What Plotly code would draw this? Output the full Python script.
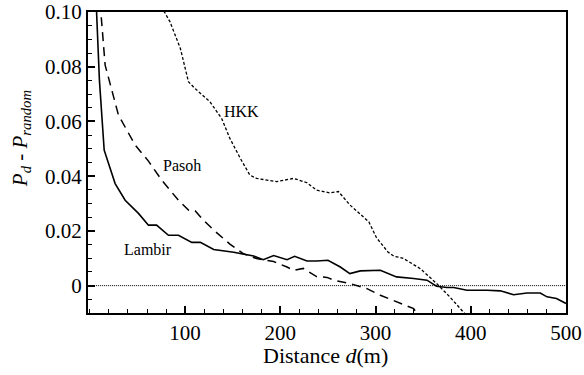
import plotly.graph_objects as go

# Lambir (solid)
lambir_d = [6, 7, 10, 15, 26.5, 37, 51, 61.5, 70, 82.5, 93, 107, 116, 130, 151, 172, 182, 193,
            207, 215, 228, 238, 250, 263, 273, 284, 305, 322, 340, 354, 364, 375, 382, 396,
            417, 431, 445, 459, 473, 480, 490, 500]
lambir_v = [0.115, 0.10, 0.075, 0.0495, 0.0373, 0.0312, 0.0264, 0.0221, 0.0221, 0.0184, 0.0184,
            0.0158, 0.0158, 0.0132, 0.0122, 0.0108, 0.0095, 0.011, 0.0095, 0.0107, 0.009, 0.009,
            0.0093, 0.0068, 0.0044, 0.0054, 0.0056, 0.0032, 0.0026, 0.002, -0.0002, -0.0007,
            -0.0007, -0.0017, -0.0017, -0.0019, -0.0033, -0.0027, -0.0027, -0.0041, -0.0047, -0.0065]

# Pasoh (dashed)
pasoh_d = [9, 11.5, 16, 30, 47.5, 61.5, 75.5, 86, 93, 103.5, 110.5, 119, 130, 147, 161, 175, 193,
           207, 214, 224, 238, 249, 256, 273, 291, 305, 326, 340, 345]
pasoh_v = [0.12, 0.10, 0.0806, 0.0623, 0.0514, 0.0455, 0.0385, 0.034, 0.0312, 0.0276, 0.0274,
           0.024, 0.0203, 0.0152, 0.0117, 0.0099, 0.0088, 0.0068, 0.0056, 0.0063, 0.0033, 0.003,
           0.002, 0.0008, -0.0011, -0.0035, -0.0065, -0.0084, -0.011]

# HKK (dotted)
hkk_d = [75, 84, 95, 103.5, 110.5, 126, 138.5, 147, 158, 168, 175, 196, 214, 228, 238, 252, 261,
         273, 293, 301, 313, 319, 329, 347, 364, 378, 392, 396]
hkk_v = [0.102, 0.0965, 0.0867, 0.0745, 0.072, 0.0672, 0.061, 0.0538, 0.0465, 0.0404, 0.0392,
         0.038, 0.0392, 0.0376, 0.0349, 0.0339, 0.0344, 0.0295, 0.0233, 0.0175, 0.0123, 0.0108,
         0.01, 0.0062, 0.0008, -0.0041, -0.0096, -0.011]

zero_d = [0, 500]
zero_v = [0, 0]

x_ticks = [100, 200, 300, 400, 500]
y_ticks = [0, 0.02, 0.04, 0.06, 0.08, 0.10]
y_ticktext = ["0", "0.02", "0.04", "0.06", "0.08", "0.10"]

series_labels = ["Lambir", "Pasoh", "HKK"]
label_d = [61.5, 96.5, 159.5]
label_v = [0.0132, 0.044, 0.0635]

FONT = "Liberation Serif, Times New Roman, serif"

fig = go.Figure()
fig.add_trace(go.Scatter(x=zero_d, y=zero_v, mode="lines",
                         line=dict(color="black", width=1, dash="1px,1px"), showlegend=False))
fig.add_trace(go.Scatter(x=lambir_d, y=lambir_v, mode="lines",
                         line=dict(color="black", width=1.6), showlegend=False))
fig.add_trace(go.Scatter(x=pasoh_d, y=pasoh_v, mode="lines",
                         line=dict(color="black", width=1.5, dash="9px,6px"), showlegend=False))
fig.add_trace(go.Scatter(x=hkk_d, y=hkk_v, mode="lines",
                         line=dict(color="black", width=1.3, dash="3px,2px"), showlegend=False))

for t, xd, yv in zip(series_labels, label_d, label_v):
    fig.add_annotation(x=xd, y=yv, text=t, showarrow=False, xanchor="center", yanchor="middle",
                       font=dict(family=FONT, size=16, color="black"))

fig.add_annotation(xref="paper", yref="paper", x=(21 - 88) / 478, y=(312.7 - 139) / 300.7,
                   text="<i>P<sub>d</sub> - P<sub>random</sub></i>", textangle=-90,
                   showarrow=False, xanchor="center", yanchor="middle",
                   font=dict(family=FONT, size=21, color="black"))
fig.add_annotation(xref="paper", yref="paper", x=(325 - 88) / 478, y=(312.7 - 355) / 300.7,
                   text="Distance <i>d</i>(m)", showarrow=False, xanchor="center", yanchor="middle",
                   font=dict(family=FONT, size=22, color="black"))

fig.update_layout(
    width=584, height=375,
    margin=dict(l=88, r=18, t=12, b=62, autoexpand=False),
    paper_bgcolor="white", plot_bgcolor="white",
    font=dict(family=FONT, size=21, color="black"),
    xaxis=dict(range=[-2, 500], tickmode="array", tickvals=x_ticks, ticks="inside", ticklen=7,
               tickwidth=1.5, tickcolor="black", showline=True, mirror=True, linecolor="black",
               linewidth=2, showgrid=False, zeroline=False, automargin=False,
               tickfont=dict(family=FONT, size=21, color="black"),
               minor=dict(tickmode="linear", tick0=0, dtick=20, ticks="inside", ticklen=4,
                          tickwidth=1.3, tickcolor="black", showgrid=False)),
    yaxis=dict(range=[-0.01, 0.10], tickmode="array", tickvals=y_ticks, ticktext=y_ticktext,
               ticks="inside", ticklen=7, tickwidth=1.5, tickcolor="black", showline=True,
               mirror=True, linecolor="black", linewidth=2, showgrid=False, zeroline=False,
               automargin=False, tickfont=dict(family=FONT, size=21, color="black"),
               minor=dict(tickmode="linear", tick0=0, dtick=0.005, ticks="inside", ticklen=4,
                          tickwidth=1.3, tickcolor="black", showgrid=False)),
)

fig.write_html("out.html")
